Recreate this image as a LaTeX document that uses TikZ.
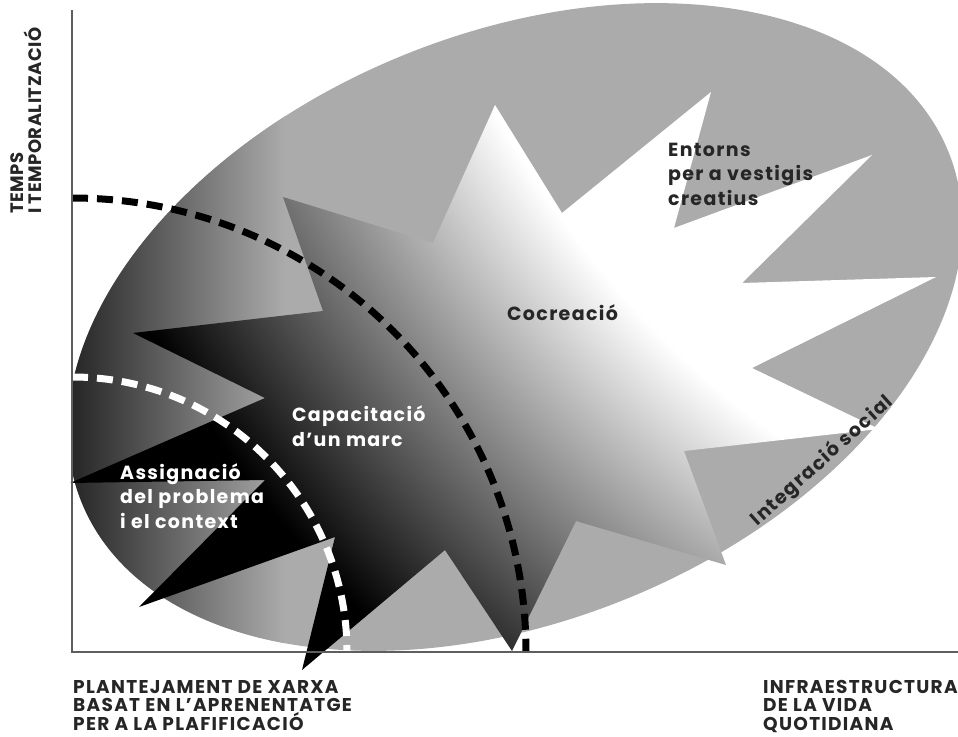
\documentclass[tikz,border=0pt]{standalone}
\usepackage{fontspec}
\setmainfont{Poppins}[LetterSpace=7]
\usetikzlibrary{positioning}

\definecolor{ovalgray}{HTML}{ABABAB}
\definecolor{ovaldark}{HTML}{262626}
\definecolor{axisgray}{HTML}{5E5E5E}
\definecolor{labelink}{HTML}{262626}

% white core, dark towards the lower left
\pgfdeclareradialshading{cocreacioglow}{\pgfpoint{0bp}{0bp}}{color(0bp)=(white); color(14bp)=(white); color(20bp)=(black); color(50bp)=(black)}

\newcommand{\starburst}{(512,651) -- (576,521) -- (726,565) -- (684,451) -- (879,429) -- (752,368) -- (936,277) -- (742,283) -- (872,155) -- (674,228) -- (711,92) -- (562,213) -- (495,105) -- (433,243) -- (283,197) -- (323,311) -- (133,333) -- (265,398) -- (70,483) -- (265,480) -- (139,607) -- (335,537) -- (302,670) -- (445,550) -- cycle}

\begin{document}
\begin{tikzpicture}[x=1pt, y=-1pt]
    \tikzset{
      lbl/.style={font=\bfseries\fontsize{19}{24.5}\selectfont, inner sep=0pt, align=left},
      caps/.style={font=\bfseries\fontsize{18.5}{18.5}\selectfont, inner sep=0pt, align=left, text=labelink},
      dashes/.style={line width=7pt, dash pattern=on 16pt off 9pt},
      axisline/.style={draw=axisgray, line width=2pt}
    }
    \fill[white] (0,0) rectangle (958,736);
    \useasboundingbox (0,0) rectangle (958,736);
    \coordinate (origin) at (72,652);

    % oval
    \begin{scope}
      \clip (72,0) rectangle (958,652);
      \fill[ovalgray, rotate around={22:(515,327)}] (515,327) ellipse [x radius=467.5, y radius=293.8];
      \clip[rotate around={22:(515,327)}] (515,327) ellipse [x radius=467.5, y radius=293.8];
      \shade[left color=ovaldark, right color=ovalgray] (72,0) rectangle (285,736);
    \end{scope}

    % star
    \begin{scope}
      \clip \starburst;
      \shade[shading=cocreacioglow] (1336,-336) circle [radius=1700];
    \end{scope}

    \draw[dashes, black] (origin) ++(0,-454) arc[start angle=-90, end angle=0, radius=454];
    \draw[dashes, white] (origin) ++(0,-275) arc[start angle=-90, end angle=0, radius=275];

    \draw[axisline] (72,10) -- (origin) -- (958,652);

    \node[lbl, text=labelink, anchor=base west] (entorns) at (668,205) {Entorns\\per a vestigis\\creatius};
    \node[lbl, text=labelink, anchor=base west] (cocreacio) at (507,320) {Cocreació};
    \node[lbl, text=white, anchor=base west] (capacitacio) at (292,446) {Capacitació\\d'un marc};
    \node[lbl, text=white, anchor=base west] (assignacio) at (120,528) {Assignació\\del problema\\i el context};
    \node[lbl, text=labelink, anchor=base, rotate=42] (integracio) at (826,465) {Integració social};

    \node[caps, font=\bfseries\fontsize{18}{18.5}\selectfont\addfontfeatures{LetterSpace=3}, anchor=north west, rotate=90] (temps) at (10,214) {TEMPS\\I TEMPORALITZACIÓ};
    \node[caps, anchor=north west] (xarxa) at (73,680) {PLANTEJAMENT DE XARXA\\BASAT EN L'APRENENTATGE\\PER A LA PLAFIFICACIÓ};
    \node[caps, anchor=north west] (infra) at (763,680) {INFRAESTRUCTURA\\DE LA VIDA\\QUOTIDIANA};
\end{tikzpicture}
\end{document}
